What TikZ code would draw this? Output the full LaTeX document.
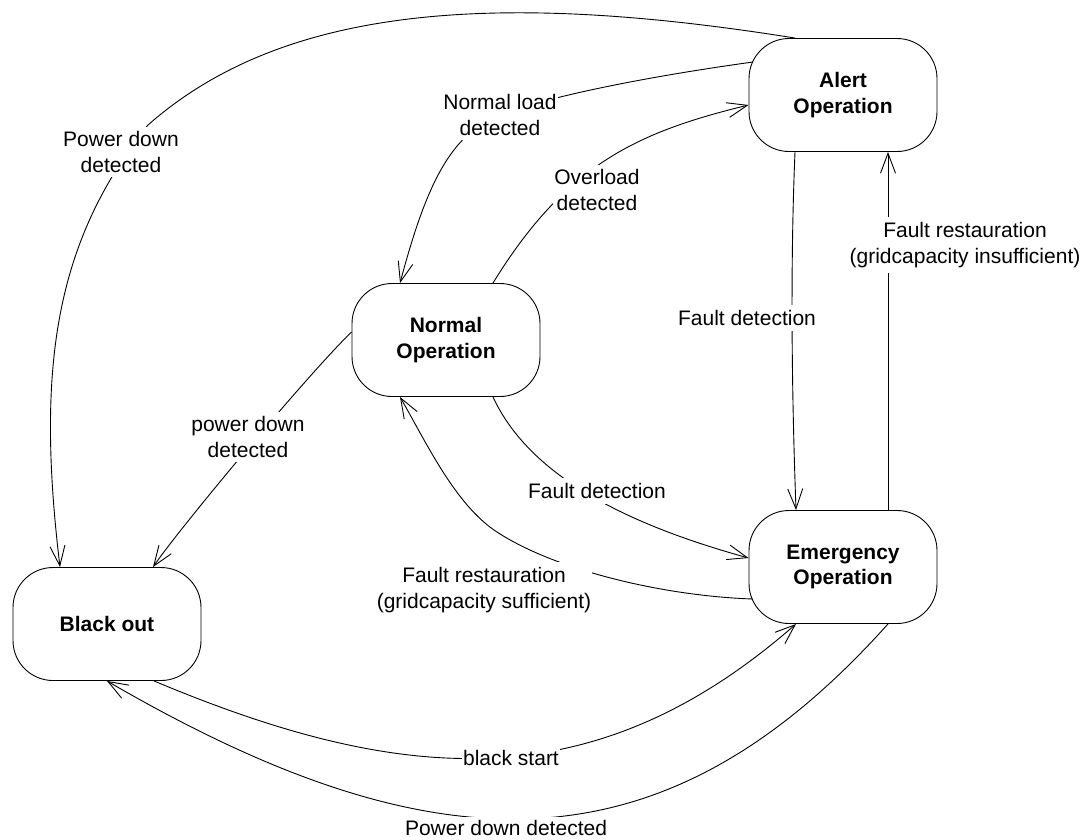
\documentclass[tikz,border=0pt]{standalone}
\usepackage{fontspec}
\setmainfont{Liberation Sans}
\usetikzlibrary{arrows.meta,calc}

\tikzset{
  state/.style={draw, fill=white, line width=0.9pt, rounded corners=40pt,
    minimum width=188pt, minimum height=113pt, align=center,
    font=\bfseries\fontsize{21}{25.5}\selectfont},
  lab/.style={fill=white, inner xsep=1pt, inner ysep=5pt, align=center,
    font=\fontsize{21}{25.5}\selectfont},
  conn/.style={line width=0.9pt},
  arr/.style={conn, -{Straight Barb[length=20pt,width=15pt]}}
}

\begin{document}
\begin{tikzpicture}[x=1pt, y=-1pt]
  \fill[white] (0,0) rectangle (1086,839);
  \useasboundingbox (0,0) rectangle (1086,839);

  % states
  \node[state] (A) at (843,95)  {Alert\\Operation};
  \node[state] (N) at (446,340) {Normal\\Operation};
  \node[state] (E) at (843,567) {Emergency\\Operation};
  \node[state] (B) at (107,624) {Black out};

  % transitions
  \draw[arr] ($(A.north)+(-48,0)$) .. controls (495,-10) and (283,6) .. (148,125)
             .. controls (55,242) and (36,367) .. ($(B.north)+(-47,0)$);
  \draw[arr] ($(A.west)+(4.5,-33)$) .. controls (680,72) and (560,92) .. (500,115)
             .. controls (450,134) and (426,186) .. ($(N.north)+(-46,0)$);
  \draw[arr] ($(N.north)+(47,0)$) .. controls (566,164) and (638,132) .. ($(A.west)+(0,10)$);
  \draw[arr] ($(N.west)+(0,-8)$) .. controls (310,372) and (182,525) .. ($(B.north)+(46,0)$);
  \draw[arr] ($(N.south)+(47,0)$) .. controls (531,479) and (633,526) .. ($(E.west)+(0,-9)$);
  \draw[arr] ($(E.west)+(4.5,32)$) .. controls (663,596) and (555,570) .. (497,532)
             .. controls (455,505) and (425,440) .. ($(N.south)+(-46,0)$);
  \draw[arr] ($(A.south)+(-48,0)$) .. controls (790,270) and (792,400) .. ($(E.north)+(-47,0)$);
  \draw[arr] ($(E.north)+(45,0)$) -- ($(A.south)+(45,0)$);
  \draw[arr] ($(B.south)+(47,0)$) .. controls (402,785) and (593.5,801) .. ($(E.south)+(-47,0)$);
  \draw[arr] ($(E.south)+(45,0)$) .. controls (665,873) and (439,874) .. (B.south);

  % transition labels
  \node[lab] (l1) at (121,152) {Power down\\detected};
  \node[lab] (l2) at (500,115) {Normal load\\detected};
  \node[lab] (l3) at (597,190) {Overload\\detected};
  \node[lab] (l4) at (248,437) {power down\\detected};
  \node[lab] (l5) at (597,491) {Fault detection};
  \node[lab] (l6) at (484,590) {Fault restauration\\(gridcapacity sufficient)};
  \node[lab] (l7) at (747,318) {Fault detection};
  \node[lab] (l8) at (965,245) {Fault restauration\\(gridcapacity insufficient)};
  \node[lab] (l9) at (511,758) {black start};
  \node[lab, anchor=base, inner ysep=3pt] (l10) at (506,835) {Power down detected};
\end{tikzpicture}
\end{document}
